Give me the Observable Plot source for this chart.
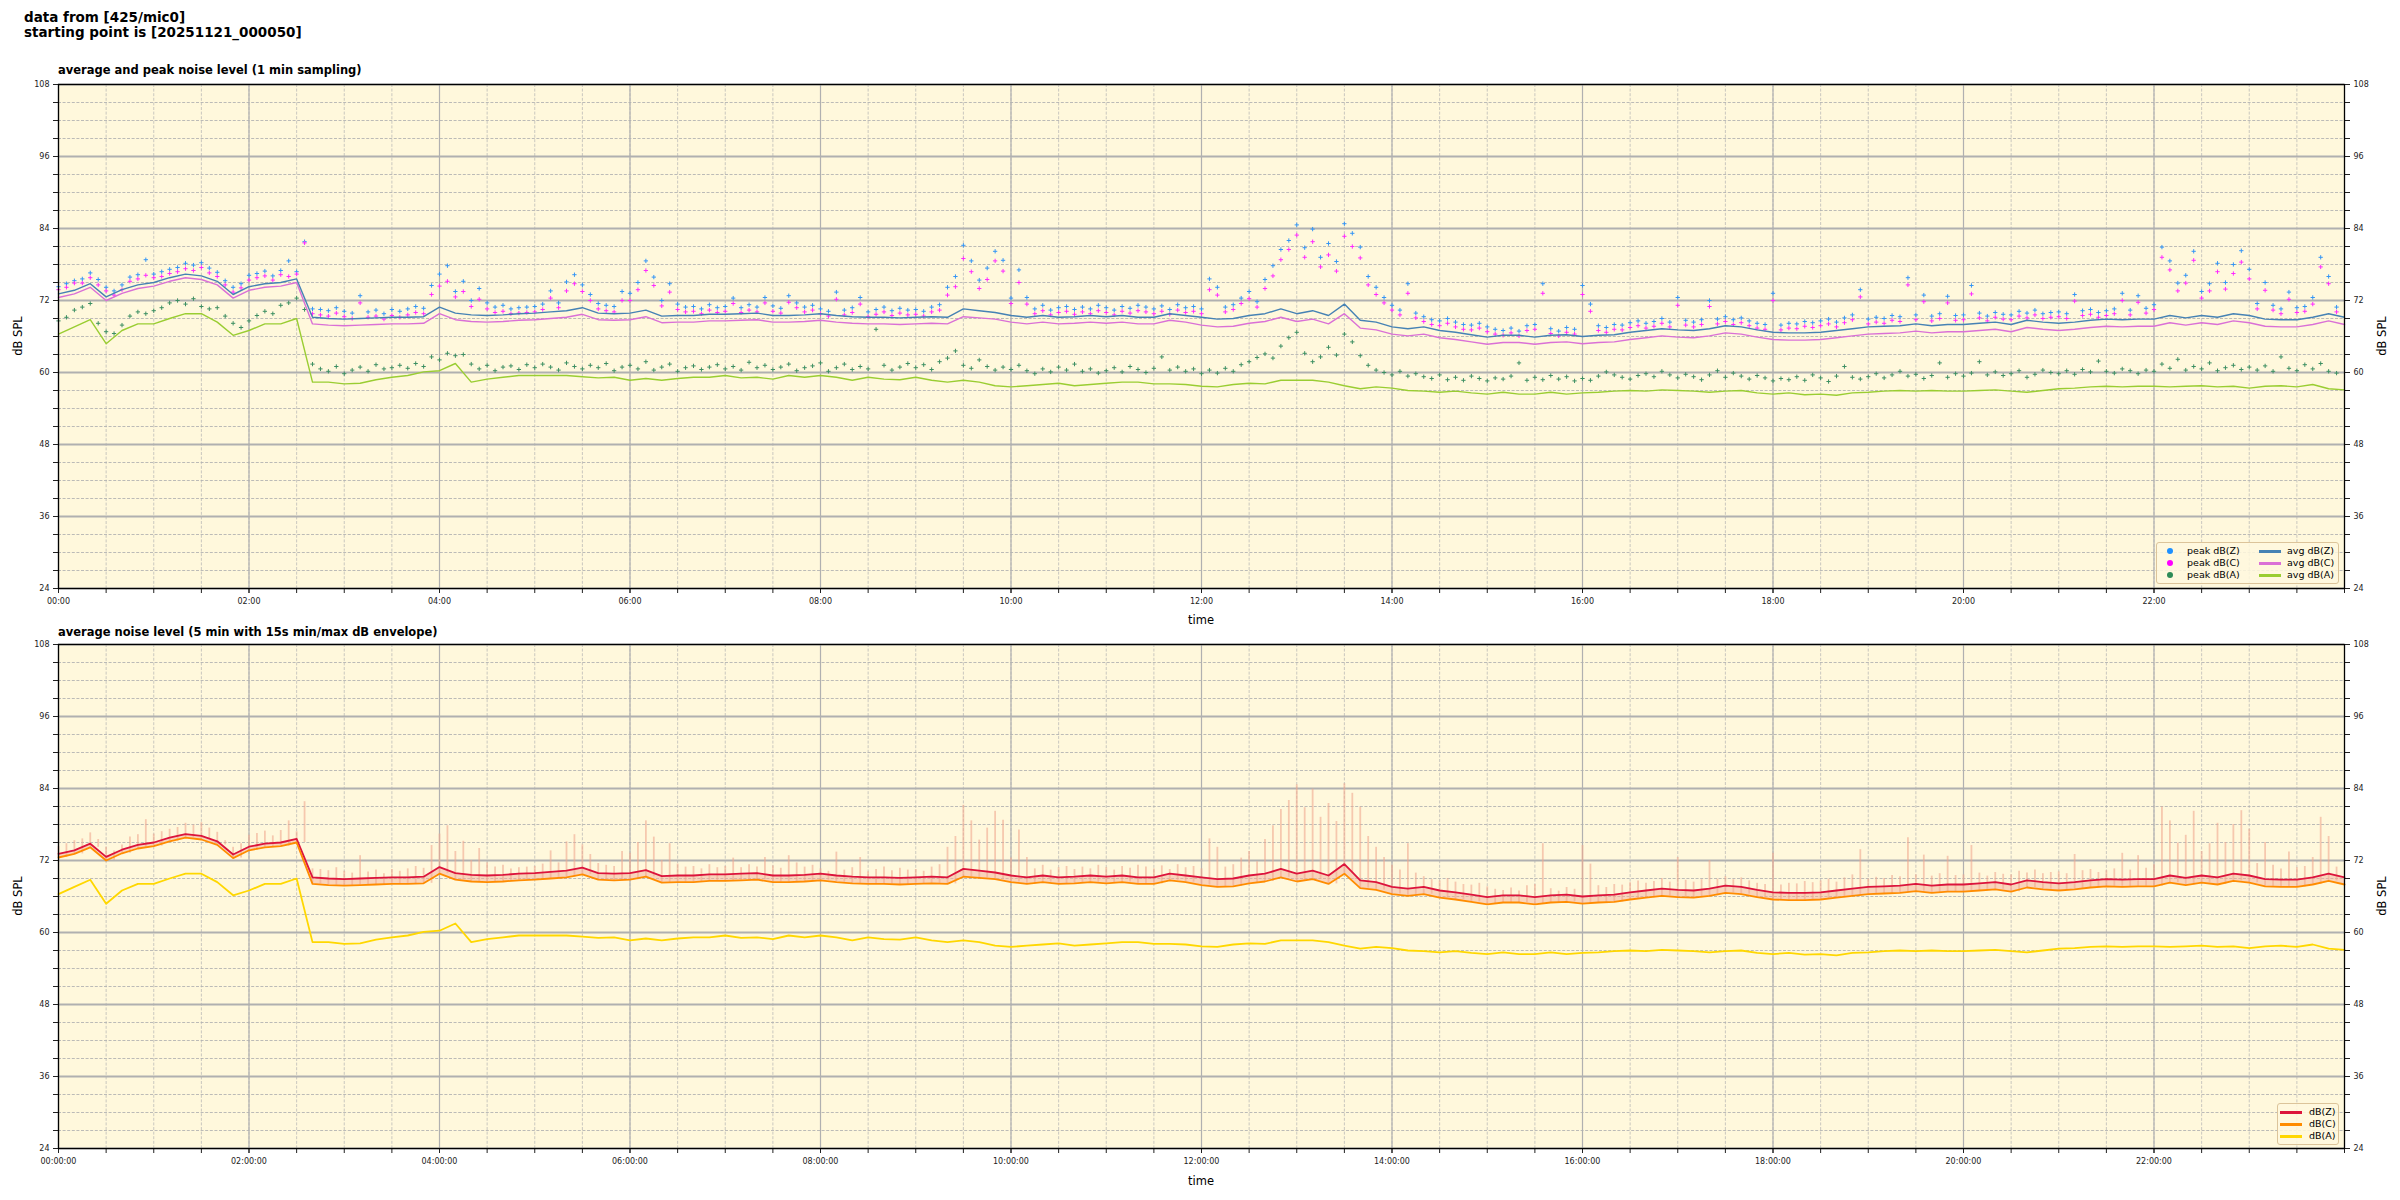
<!DOCTYPE html>
<html><head><meta charset="utf-8">
<script src="https://cdn.jsdelivr.net/npm/d3@7"></script>
<script src="https://cdn.jsdelivr.net/npm/@observablehq/plot@0.6"></script>
<style>
html,body{margin:0;padding:0;background:#fff;}
body{width:2400px;height:1200px;position:relative;overflow:hidden;font-family:"DejaVu Sans",sans-serif;color:#000;}
.abs{position:absolute;white-space:nowrap;}
.svgpanel{position:absolute;left:0;}
.ttl{font-weight:bold;}
.lab{font-size:11.5px;}
.rot{transform:translate(-50%,-50%) rotate(-90deg);}
.leg{position:absolute;border:1px solid #dcc49a;background:rgba(255,248,222,0.85);border-radius:3px;font-size:9.5px;}
.leg .it{position:absolute;white-space:nowrap;line-height:12px;}
</style></head>
<body>
<script>
// ---- time axis (minutes after 00:00) ----
const xMajor = [0, 120, 240, 360, 480, 600, 720, 840, 960, 1080, 1200, 1320];
const xLabelsTop = ["00:00","02:00","04:00","06:00","08:00","10:00","12:00","14:00","16:00","18:00","20:00","22:00"];
const xLabelsBottom = ["00:00:00","02:00:00","04:00:00","06:00:00","08:00:00","10:00:00","12:00:00","14:00:00","16:00:00","18:00:00","20:00:00","22:00:00"];
const yMajor = [24, 36, 48, 60, 72, 84, 96, 108];
const yMinor = [27, 30, 33, 39, 42, 45, 51, 54, 57, 63, 66, 69, 75, 78, 81, 87, 90, 93, 99, 102, 105];

// ---- average levels, one value every 10 minutes (00:00 .. 24:00) ----
const avgZ = [
73.1,73.7,74.8,72.6,73.8,74.6,
75.0,75.8,76.4,76.1,75.2,73.0,
74.3,74.8,75.0,75.6,69.2,69.0,
68.9,69.0,69.1,69.2,69.2,69.3,
70.9,69.9,69.6,69.5,69.6,69.8,
69.9,70.1,70.3,70.8,69.9,69.8,
69.9,70.4,69.4,69.5,69.5,69.7,
69.7,69.8,69.9,69.5,69.5,69.6,
69.8,69.5,69.3,69.2,69.2,69.1,
69.2,69.3,69.2,70.6,70.3,70.0,
69.5,69.2,69.5,69.2,69.3,69.5,
69.3,69.5,69.2,69.2,69.8,69.5,
69.2,68.9,69.0,69.5,69.8,70.6,
69.8,70.3,69.5,71.4,68.7,68.4,
67.6,67.3,67.6,67.0,66.7,66.3,
65.9,66.2,66.2,65.9,66.2,66.3,
66.0,66.2,66.3,66.7,67.0,67.3,
67.1,67.0,67.3,67.8,67.6,67.1,
66.7,66.6,66.6,66.7,67.0,67.3,
67.6,67.7,67.8,68.1,67.8,68.0,
68.0,68.2,68.4,68.0,68.7,68.4,
68.2,68.4,68.7,68.9,68.8,68.9,
68.9,69.5,69.1,69.5,69.2,69.8,
69.5,68.9,68.8,68.8,69.2,69.8,
69.2];
const avgC = [
72.5,73.1,74.2,72.0,73.2,74.0,
74.4,75.2,75.8,75.5,74.6,72.4,
73.7,74.2,74.4,75.0,68.1,67.9,
67.8,67.9,68.0,68.1,68.1,68.2,
69.8,68.8,68.5,68.4,68.5,68.7,
68.8,69.0,69.2,69.7,68.8,68.7,
68.8,69.3,68.3,68.4,68.4,68.6,
68.6,68.7,68.8,68.4,68.4,68.5,
68.7,68.4,68.2,68.1,68.1,68.0,
68.1,68.2,68.1,69.3,69.1,68.9,
68.4,68.1,68.4,68.1,68.2,68.4,
68.2,68.4,68.1,68.1,68.7,68.4,
67.9,67.6,67.7,68.2,68.5,69.2,
68.5,68.9,68.1,69.8,67.4,67.1,
66.4,66.1,66.4,65.8,65.5,65.1,
64.7,65.0,65.0,64.7,65.0,65.1,
64.8,65.0,65.1,65.5,65.8,66.1,
65.9,65.8,66.1,66.6,66.4,65.9,
65.5,65.4,65.4,65.5,65.8,66.1,
66.4,66.5,66.6,66.9,66.6,66.8,
66.8,67.0,67.2,66.8,67.5,67.2,
67.0,67.2,67.5,67.7,67.6,67.7,
67.7,68.3,67.9,68.3,68.0,68.6,
68.3,67.7,67.6,67.6,68.0,68.6,
68.0];
const avgA = [
66.4,67.6,68.8,64.8,67.0,68.1,
68.1,69.0,69.8,69.8,68.4,66.2,
67.0,68.1,68.1,69.0,58.4,58.4,
58.1,58.2,58.8,59.2,59.5,60.1,
60.3,61.5,58.4,58.9,59.2,59.5,
59.5,59.5,59.5,59.3,59.1,59.2,
58.7,59.0,58.7,59.0,59.2,59.2,
59.5,59.1,59.2,58.9,59.5,59.2,
59.5,59.2,58.7,59.2,58.9,58.8,
59.2,58.7,58.4,58.7,58.4,57.8,
57.6,57.8,58.0,58.2,57.8,58.0,
58.2,58.4,58.4,58.1,58.1,58.0,
57.7,57.6,58.0,58.2,58.1,58.7,
58.7,58.7,58.4,57.8,57.3,57.6,
57.4,57.0,56.9,56.7,56.9,56.6,
56.4,56.7,56.4,56.4,56.7,56.4,
56.6,56.7,56.9,57.0,56.9,57.1,
57.0,56.9,56.7,56.9,57.0,56.6,
56.4,56.6,56.3,56.4,56.2,56.6,
56.7,56.9,57.0,56.9,57.0,56.9,
56.9,57.0,57.1,56.9,56.7,57.0,
57.3,57.4,57.6,57.7,57.6,57.7,
57.7,57.6,57.7,57.8,57.6,57.7,
57.4,57.7,57.8,57.6,58.0,57.3,
57.1];

// ---- peak levels, one value every 5 minutes (00:00 .. 23:55) ----
const peakZ = [
74.3,74.8,75.3,75.6,76.6,75.5,74.2,73.6,74.6,75.9,76.3,78.8,
76.4,76.8,77.2,77.5,78.2,77.9,78.3,77.4,76.7,75.3,74.2,74.8,
76.2,76.5,76.9,76.1,77.0,78.6,76.8,81.8,70.6,70.5,70.3,70.8,
70.2,69.9,72.8,70.1,70.4,69.8,70.5,70.2,70.6,71.0,70.7,74.5,
76.4,77.8,73.5,75.2,72.0,74.0,71.6,70.9,71.2,70.6,70.8,70.9,
71.0,71.4,73.6,71.6,75.1,76.3,74.6,73.0,71.5,71.2,71.0,73.5,
73.2,75.0,78.6,75.9,72.0,74.8,71.4,70.9,71.0,70.6,71.3,70.8,
71.0,72.4,70.8,71.3,70.9,72.5,71.1,70.7,72.8,71.6,70.9,71.2,
70.6,70.2,73.4,70.4,70.8,72.5,70.1,70.5,70.9,70.3,70.7,70.4,
70.5,70.2,70.9,71.3,74.2,76.0,81.2,78.6,75.4,77.4,80.2,78.7,
72.4,77.1,72.5,70.6,71.2,70.4,70.8,71.0,70.5,70.9,70.6,71.2,
70.8,70.4,71.0,70.7,71.2,70.9,70.6,71.1,70.5,71.3,70.8,71.0,
70.6,75.6,74.2,70.9,71.3,72.4,73.5,71.8,75.5,77.8,80.5,82.0,
84.6,80.8,83.9,79.2,81.5,78.5,84.8,83.2,80.9,76.0,74.2,72.5,
71.2,70.4,74.8,69.9,69.3,68.8,68.6,69.0,68.4,68.0,67.9,68.2,
67.6,67.2,67.0,67.4,66.9,67.8,68.0,74.8,67.3,66.9,67.5,67.2,
74.5,71.4,67.8,67.5,68.0,67.9,68.3,68.6,68.2,68.5,69.0,68.4,
72.5,68.7,68.4,68.8,72.0,68.9,69.3,68.8,69.1,68.6,68.2,68.0,
73.2,67.9,68.2,68.1,68.5,68.3,68.6,68.9,68.4,69.1,69.6,73.8,
68.9,69.2,69.0,69.5,69.3,75.8,69.6,72.9,69.4,69.8,72.7,69.5,
69.6,74.5,69.9,69.4,70.0,69.7,69.6,70.2,69.9,70.4,69.8,70.0,
70.1,69.8,73.0,70.3,70.5,70.0,70.3,70.6,73.2,70.4,72.8,70.7,
71.3,80.9,78.6,74.9,76.2,80.2,73.5,74.8,78.2,75.0,78.0,80.3,
77.2,71.5,75.0,71.2,70.6,73.4,70.8,71.0,72.5,79.2,76.0,70.9];
const peakC = [
73.8,74.2,74.9,74.9,75.8,74.6,73.6,72.9,73.8,75.2,75.6,76.2,
75.8,76.0,76.5,76.8,77.3,77.0,77.5,76.6,76.0,74.6,73.4,74.1,
75.4,75.8,76.1,75.4,76.3,76.0,76.4,81.6,69.8,69.6,69.4,69.9,
69.3,69.0,71.6,69.2,69.4,68.9,69.5,69.2,69.6,70.0,69.8,73.0,
74.4,75.2,72.6,73.5,71.0,72.2,70.6,70.0,70.2,69.8,69.9,70.0,
70.1,70.5,72.4,70.8,73.6,74.8,73.5,72.0,70.6,70.3,70.1,72.0,
72.0,73.8,77.0,74.5,71.1,73.4,70.5,70.1,70.2,69.8,70.4,70.0,
70.2,71.5,70.0,70.4,70.1,71.6,70.2,69.9,71.7,70.8,70.1,70.4,
69.8,69.4,72.2,69.6,70.0,71.4,69.3,69.7,70.1,69.5,69.9,69.6,
69.7,69.4,70.1,70.4,72.9,74.3,79.0,76.8,74.0,75.5,78.6,76.9,
71.5,75.0,71.4,69.8,70.3,69.6,70.0,70.2,69.7,70.1,69.8,70.3,
70.0,69.6,70.2,69.9,70.3,70.1,69.8,70.2,69.7,70.4,70.0,70.2,
69.8,73.8,72.9,70.1,70.5,71.5,72.3,70.9,74.0,76.1,78.8,80.5,
82.9,79.2,81.8,77.6,79.6,76.9,82.7,81.0,79.1,74.6,73.0,71.6,
70.4,69.6,73.2,69.1,68.5,68.0,67.8,68.2,67.6,67.2,67.1,67.4,
66.8,66.4,66.2,66.6,66.1,67.0,67.2,73.2,66.5,66.1,66.7,66.4,
73.0,70.2,67.0,66.7,67.2,67.1,67.5,67.8,67.4,67.7,68.2,67.6,
71.2,67.9,67.6,68.0,71.0,68.1,68.5,68.0,68.3,67.8,67.4,67.2,
72.0,67.1,67.4,67.3,67.7,67.5,67.8,68.1,67.6,68.3,68.8,72.6,
68.1,68.4,68.2,68.7,68.5,74.6,68.8,71.8,68.6,69.0,71.6,68.7,
68.8,73.1,69.1,68.6,69.2,68.9,68.8,69.4,69.1,69.6,69.0,69.2,
69.3,69.0,71.9,69.5,69.7,69.2,69.5,69.8,72.0,69.6,71.7,69.9,
70.5,79.2,77.1,73.6,74.9,78.7,72.4,73.6,76.8,73.9,76.5,78.4,
75.6,70.6,73.7,70.4,69.8,72.2,70.0,70.2,71.4,77.6,74.8,70.1];
const peakA = [
68.6,69.2,70.4,70.9,71.5,68.2,66.8,66.5,67.9,69.4,70.1,69.8,
70.3,70.8,71.6,72.0,71.4,72.3,71.0,70.6,70.8,69.4,68.2,67.5,
68.6,69.5,70.2,69.8,71.2,71.6,72.4,70.5,61.4,60.6,60.2,61.0,
59.8,60.4,60.9,60.2,61.3,60.6,60.8,61.2,60.7,61.5,61.0,62.6,
62.1,63.2,62.8,63.0,61.4,60.6,61.2,60.3,60.9,61.1,60.5,61.3,
60.8,61.4,60.9,60.4,61.6,61.0,60.6,61.2,60.8,61.5,60.3,60.9,
61.2,60.6,61.8,60.4,60.9,61.4,60.2,60.8,61.1,60.5,60.9,61.3,
60.6,61.0,60.4,61.7,60.8,61.2,60.5,60.9,61.4,60.3,60.8,61.1,
61.6,60.2,60.8,61.4,60.5,61.0,60.6,67.2,61.2,60.4,60.9,61.5,
60.8,61.3,60.5,61.8,62.4,63.6,61.2,60.7,62.1,61.0,60.4,60.9,
60.5,61.2,60.3,59.8,60.6,60.1,60.9,60.4,61.4,60.2,60.6,59.9,
60.3,60.8,60.1,61.0,60.5,60.0,60.7,62.6,60.4,60.9,60.2,60.6,
59.8,60.4,59.9,60.7,60.2,61.3,61.8,62.5,63.1,62.4,64.4,65.8,
66.7,63.2,61.8,62.6,64.2,62.9,66.4,65.1,62.8,61.2,60.4,60.0,
59.6,60.2,59.4,59.8,59.3,59.0,59.6,58.8,59.2,58.7,59.4,59.0,
58.6,59.1,58.9,59.4,61.6,58.7,59.2,58.8,59.5,58.9,59.3,58.6,
59.0,58.7,59.4,60.1,59.6,59.2,58.9,59.5,59.8,59.3,60.2,59.6,
59.1,59.7,59.3,58.8,59.6,60.3,59.2,59.9,59.4,58.9,59.5,59.1,
58.6,59.0,58.8,59.3,58.7,59.6,59.1,58.5,59.4,61.0,59.2,58.9,
59.3,59.8,59.1,59.6,60.2,59.4,59.7,59.0,59.5,61.6,59.2,59.8,
59.4,59.9,61.8,59.6,60.1,59.5,59.8,60.3,59.2,59.7,60.4,60.0,
59.8,60.3,59.7,60.5,60.1,61.9,60.2,59.9,60.6,60.3,59.8,60.4,
60.2,61.4,60.7,62.2,60.4,61.0,60.6,61.6,60.3,60.8,61.2,60.5,
60.9,60.4,61.1,60.2,62.6,60.7,60.3,61.3,60.6,61.5,60.2,59.9];

// ---- tables built from the arrays ----
const avgRows = avgZ.map((z, i) => ({t: i * 10, z, c: avgC[i], a: avgA[i]}));
const peakRows = peakZ.map((z, i) => ({t: i * 5, z, c: peakC[i], a: peakA[i], lo: avgC[Math.floor(i / 2)]}));

const BG = "#fff8dc", GRID = "#b0b0b0";
const xMinor = d3.range(0, 1441, 30);

function frameMarks(labels) {
  return {
    under: [
      Plot.frame({fill: BG, stroke: null}),
      Plot.gridX({ticks: xMinor, stroke: GRID, strokeOpacity: 0.85, strokeWidth: 0.8, strokeDasharray: "3,1.6"}),
      Plot.gridY({ticks: yMinor, stroke: GRID, strokeOpacity: 0.95, strokeWidth: 0.9, strokeDasharray: "3,1.6"}),
      Plot.gridX({ticks: xMajor, stroke: GRID, strokeOpacity: 1, strokeWidth: 1.2}),
      Plot.gridY({ticks: yMajor, stroke: GRID, strokeOpacity: 1, strokeWidth: 1.8})
    ],
    over: [
      Plot.axisX({ticks: xMinor, tickSize: 5, tickFormat: () => "", label: null}),
      Plot.axisX({ticks: xMajor, tickSize: 5, tickPadding: 5, tickFormat: d => labels[xMajor.indexOf(d)], label: null}),
      Plot.axisY({anchor: "left", ticks: yMinor, tickSize: 5, tickFormat: () => "", label: null}),
      Plot.axisY({anchor: "left", ticks: yMajor, tickSize: 5, tickPadding: 4, tickFormat: d => String(d), label: null}),
      Plot.axisY({anchor: "right", ticks: yMinor, tickSize: 5, tickFormat: () => "", label: null}),
      Plot.axisY({anchor: "right", ticks: yMajor, tickSize: 5, tickPadding: 4, tickFormat: d => String(d), label: null}),
      Plot.frame({stroke: "#000", strokeWidth: 1.3})
    ]
  };
}

function panel(top, height, mt, mb, labels, marks) {
  const f = frameMarks(labels);
  const svg = Plot.plot({
    width: 2400, height,
    marginLeft: 58, marginRight: 56, marginTop: mt, marginBottom: mb,
    x: {type: "linear", domain: [0, 1440]},
    y: {type: "linear", domain: [24, 108]},
    style: {fontFamily: "'DejaVu Sans', sans-serif", fontSize: "8px", background: "transparent", color: "#222"},
    marks: [...f.under, ...marks, ...f.over]
  });
  svg.classList.add("svgpanel");
  svg.style.top = top + "px";
  document.body.appendChild(svg);
}

// top panel: plot area 84..588
panel(52, 580, 32, 44, xLabelsTop, [
  Plot.dot(peakRows, {x: "t", y: "z", symbol: "plus", r: 1.5, stroke: "#3596f5", strokeWidth: 1, fill: "none"}),
  Plot.dot(peakRows, {x: "t", y: "c", symbol: "plus", r: 1.5, stroke: "#ff2bff", strokeWidth: 1, fill: "none"}),
  Plot.dot(peakRows, {x: "t", y: "a", symbol: "plus", r: 1.5, stroke: "#3d8f62", strokeWidth: 1, fill: "none"}),
  Plot.line(avgRows, {x: "t", y: "c", stroke: "#da70d6", strokeWidth: 1.4}),
  Plot.line(avgRows, {x: "t", y: "z", stroke: "#4682b4", strokeWidth: 1.4}),
  Plot.line(avgRows, {x: "t", y: "a", stroke: "#9acd32", strokeWidth: 1.4})
]);

// bottom panel: plot area 644..1148
panel(632, 568, 12, 52, xLabelsBottom, [
  Plot.areaY(avgRows, {x: "t", y1: "c", y2: "z", fill: "#f3b09a", fillOpacity: 0.5}),
  Plot.ruleX(peakRows, {x: "t", y1: "lo", y2: "z", stroke: "#f0a890", strokeOpacity: 0.6, strokeWidth: 1.8}),
  Plot.line(avgRows, {x: "t", y: "z", stroke: "#dc143c", strokeWidth: 1.8}),
  Plot.line(avgRows, {x: "t", y: "c", stroke: "#ff8c00", strokeWidth: 1.8}),
  Plot.line(avgRows, {x: "t", y: "a", stroke: "#ffd700", strokeWidth: 1.8})
]);

// ---- texts ----
function addText(html, style, cls) {
  const d = document.createElement("div");
  d.className = "abs " + (cls || "");
  d.innerHTML = html;
  Object.assign(d.style, style);
  document.body.appendChild(d);
  return d;
}
addText("data from [425/mic0]<br>starting point is [20251121_000050]", {left: "24px", top: "10px", fontSize: "13.5px", lineHeight: "15px"}, "ttl");
addText("average and peak noise level (1 min sampling)", {left: "58px", top: "63px", fontSize: "11.5px"}, "ttl");
addText("average noise level (5 min with 15s min/max dB envelope)", {left: "58px", top: "625px", fontSize: "11.5px"}, "ttl");
addText("time", {left: "1201px", top: "620px", transform: "translate(-50%,-50%)"}, "lab");
addText("time", {left: "1201px", top: "1181px", transform: "translate(-50%,-50%)"}, "lab");
[[18, 336], [2382, 336], [18, 896], [2382, 896]].forEach(([x, y]) =>
  addText("dB SPL", {left: x + "px", top: y + "px"}, "lab rot"));

// ---- legends ----
function legend(box, items) {
  const d = document.createElement("div");
  d.className = "leg";
  Object.assign(d.style, box);
  items.forEach(it => {
    const s = document.createElement("div");
    s.className = "it";
    if (it.kind === "dot") {
      Object.assign(s.style, {left: (it.x - 3) + "px", top: (it.y - 3) + "px", width: "6px", height: "6px", borderRadius: "50%", background: it.color});
    } else {
      Object.assign(s.style, {left: it.x + "px", top: (it.y - 1.5) + "px", width: "22px", height: "3.5px", background: it.color});
    }
    d.appendChild(s);
    const t = document.createElement("div");
    t.className = "it";
    t.textContent = it.label;
    Object.assign(t.style, {left: it.tx + "px", top: (it.y - 6) + "px"});
    d.appendChild(t);
  });
  document.body.appendChild(d);
}
legend({left: "2156px", top: "542px", width: "181px", height: "40px"}, [
  {kind: "dot", x: 13, y: 8, tx: 30, color: "#1e90ff", label: "peak dB(Z)"},
  {kind: "dot", x: 13, y: 20, tx: 30, color: "#ff00ff", label: "peak dB(C)"},
  {kind: "dot", x: 13, y: 32, tx: 30, color: "#2e8b57", label: "peak dB(A)"},
  {kind: "line", x: 102, y: 8, tx: 130, color: "#4682b4", label: "avg dB(Z)"},
  {kind: "line", x: 102, y: 20, tx: 130, color: "#da70d6", label: "avg dB(C)"},
  {kind: "line", x: 102, y: 32, tx: 130, color: "#9acd32", label: "avg dB(A)"}
]);
legend({left: "2277px", top: "1103px", width: "60px", height: "40px"}, [
  {kind: "line", x: 2, y: 8, tx: 31, color: "#dc143c", label: "dB(Z)"},
  {kind: "line", x: 2, y: 20, tx: 31, color: "#ff8c00", label: "dB(C)"},
  {kind: "line", x: 2, y: 32, tx: 31, color: "#ffd700", label: "dB(A)"}
]);
</script>
</body></html>
